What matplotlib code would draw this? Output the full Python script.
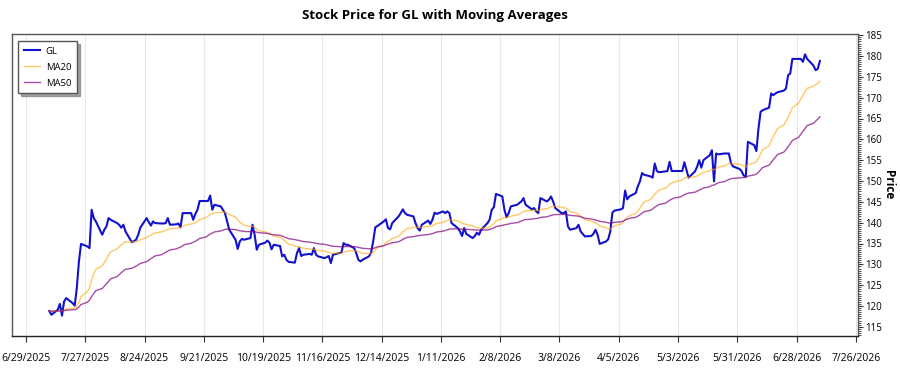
import matplotlib
matplotlib.use('Agg')
import matplotlib.pyplot as plt
from matplotlib.ticker import MultipleLocator
import pandas as pd

plt.rcParams['font.family'] = ['Open Sans', 'DejaVu Sans']

ticker = 'GL'
start_date = '2025-07-10'

# daily closes
gl_close = [
    118.8, 117.9, 119.1, 120.5, 117.7, 121.1, 121.9, 120.7, 120.1, 124.3,
    130.7, 134.9, 134.3, 133.9, 143.1, 141.1, 140.3, 137.1, 138.3, 139.1,
    141.1, 140.7, 139.9, 139.5, 138.8, 139.5, 137.9, 135.3, 135.6, 135.9,
    137.1, 138.8, 141.1, 140.1, 139.3, 140.3, 139.9, 139.8, 139.8, 139.9,
    141.1, 139.5, 139.6, 139.8, 138.9, 142.3, 142.3, 142.3, 140.7, 142.1,
    143.1, 145.2, 145.2, 145.2, 146.5, 143.1, 144.3, 143.9, 143.1, 142.3,
    140.3, 138.3, 135.9, 133.7, 135.5, 136.1, 135.9, 136.3, 139.5,
    137.1, 133.5, 134.7, 135.2, 135.7, 135.2, 133.6, 134.7, 134.4, 131.9,
    132.3, 131.1, 130.6, 130.4, 132.7, 133.9, 132.0, 132.3, 132.5, 132.3,
    133.9, 132.3, 131.9, 131.5, 131.7, 132.0, 130.3, 132.3, 132.7, 132.8,
    135.1, 134.7, 134.7, 133.9, 132.7, 131.1, 130.7, 131.1, 131.9, 132.8,
    135.5, 138.9, 139.2, 140.3, 140.8, 138.7, 138.4, 139.9, 141.5, 142.3,
    143.2, 142.3, 141.9, 141.5, 139.9,
    138.7, 138.1, 139.5, 140.5, 139.7, 140.7, 142.4, 142.1, 142.7, 142.3,
    142.7, 142.3, 139.9, 138.7, 137.9, 136.8, 138.7, 137.3, 136.3, 136.8,
    137.6, 137.1, 138.3, 139.9, 140.7, 143.1, 143.7, 146.9, 146.3, 143.1,
    141.3, 142.3, 143.9, 144.3, 144.7, 145.1, 145.9, 144.3, 143.2, 143.5,
    142.7, 142.3, 145.9, 145.1, 145.5, 146.3, 145.1, 143.5, 142.3, 142.3,
    142.7, 139.1, 138.3, 138.7, 139.5, 137.9, 137.3, 136.7, 136.8, 137.3,
    138.3, 137.1, 134.9, 135.5, 136.0, 137.9, 142.4, 142.9, 143.2, 143.5,
    147.7, 145.6, 146.3, 147.1, 148.7,
    149.9, 151.9, 151.5, 151.1, 150.8, 154.2, 152.4, 152.1, 152.3, 152.4,
    154.6, 152.4, 152.4, 152.4, 152.4, 154.5, 152.6, 150.8, 152.3, 153.4,
    155.0, 153.2, 155.0, 156.2, 157.4, 149.9, 156.6, 156.4, 156.6, 156.6,
    156.6, 154.3, 153.5, 152.9, 152.4, 151.3, 151.1, 159.4, 158.6, 157.2,
    162.6, 166.6, 167.0, 167.6, 171.0, 170.6, 171.0, 171.3, 171.7, 172.2,
    175.4, 175.8, 179.3, 179.3, 179.3, 178.6, 180.4, 179.3, 177.7, 176.6,
    176.9, 178.8,
]

df = pd.DataFrame({'Close': gl_close},
                  index=pd.bdate_range(start_date, periods=len(gl_close)))
df['MA20'] = df['Close'].ewm(span=20, adjust=False).mean()
df['MA50'] = df['Close'].ewm(span=50, adjust=False).mean()

fig = plt.figure(figsize=(9, 3.75), dpi=100)
ax = fig.add_axes([0.0133, 0.104, 0.94, 0.805])

ax.plot(df.index, df['Close'], color='#1212CC', lw=1.5, label=ticker)
ax.plot(df.index, df['MA20'], color='orange', alpha=0.6, lw=1.0, label='MA20')
ax.plot(df.index, df['MA50'], color='purple', alpha=0.7, lw=1.0, label='MA50')

ax.set_title(f'Stock Price for {ticker} with Moving Averages',
             fontsize=9.5, fontweight='bold', pad=11)

# x axis: every 4 weeks
ax.set_xlim(pd.Timestamp('2025-06-22 09:00'), pd.Timestamp('2026-07-27'))
ticks = pd.date_range('2025-06-29', '2026-07-26', freq='28D')
ax.set_xticks(ticks)
ax.set_xticklabels([f'{d.month}/{d.day}/{d.year}' for d in ticks], fontsize=7.5)
ax.tick_params(axis='x', length=4, pad=8, color='#333333')
ax.grid(axis='x', color='#e6e6e6', lw=0.8)

# y axis on the right
ax.set_ylim(112.8, 185.25)
ax.yaxis.tick_right()
ax.yaxis.set_label_position('right')
ax.yaxis.set_major_locator(MultipleLocator(5))
ax.yaxis.set_minor_locator(MultipleLocator(0.5))
ax.tick_params(axis='y', which='major', length=3.5, pad=2, labelsize=7, color='#333333')
ax.tick_params(axis='y', which='minor', length=1.8, width=0.6, color='#333333')
ax.set_ylabel('Price', fontsize=8.5, fontweight='bold', rotation=270, labelpad=9)

for s in ax.spines.values():
    s.set_color('#555555')
    s.set_linewidth(1.0)
ax.spines['bottom'].set_color('#222222')

ax.legend(loc='upper left', fontsize=6.8, fancybox=False,
          shadow={'color': '#888888', 'alpha': 0.8},
          edgecolor='#555555', framealpha=1, handlelength=1.7,
          borderpad=0.6, labelspacing=0.75, handletextpad=0.6,
          bbox_to_anchor=(0.002, 0.993))

fig.savefig('out.png', dpi=100)
